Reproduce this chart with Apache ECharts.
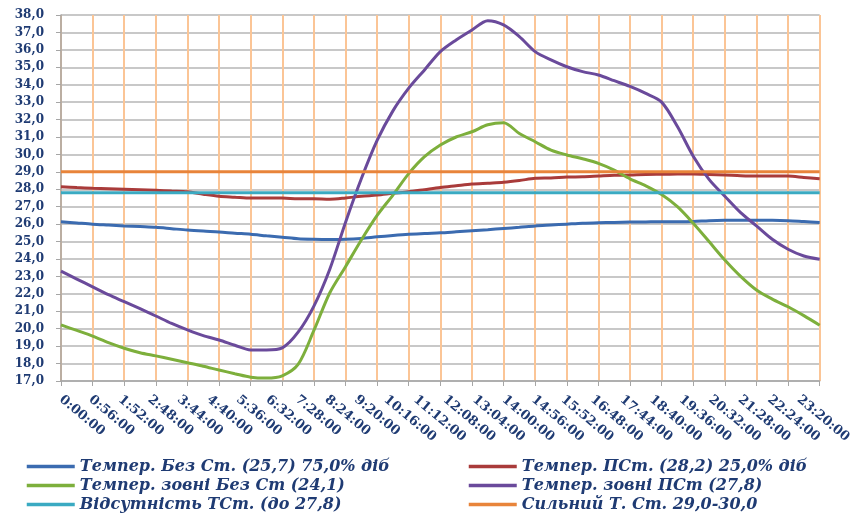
<!DOCTYPE html>
<html>
<head>
<meta charset="utf-8">
<script src="https://cdn.jsdelivr.net/npm/echarts@6/dist/echarts.min.js"></script>
<style>
html,body{margin:0;padding:0;background:#fff;}
#chart{width:854px;height:515px;}
</style>
</head>
<body>
<div id="chart"></div>
<script>
// time of day in minutes (every 30 min)
const times = [0,30,60,90,120,150,180,210,240,270,300,330,360,390,420,450,480,510,540,570,600,630,660,690,720,750,780,810,840,870,900,930,960,990,1020,1050,1080,1110,1140,1170,1200,1230,1260,1290,1320,1350,1380,1410,1440];

const seriesNames = [
  'Темпер. Без Ст. (25,7) 75,0% діб',
  'Темпер. ПСт. (28,2) 25,0% діб',
  'Темпер. зовні Без Ст (24,1)',
  'Темпер. зовні ПСт (27,8)',
  'Відсутність ТСт. (до 27,8)',
  'Сильний Т. Ст. 29,0-30,0'
];

const tempIndoorNoWave = [26.14,26.07,26.0,25.95,25.9,25.86,25.82,25.74,25.66,25.6,25.55,25.48,25.42,25.33,25.25,25.16,25.13,25.12,25.13,25.18,25.27,25.35,25.42,25.47,25.5,25.56,25.62,25.68,25.75,25.82,25.9,25.95,26.0,26.05,26.08,26.1,26.12,26.13,26.14,26.14,26.15,26.2,26.22,26.22,26.22,26.22,26.2,26.15,26.1];

const tempIndoorWave = [28.15,28.1,28.06,28.03,28.0,27.97,27.94,27.9,27.86,27.72,27.6,27.55,27.5,27.5,27.5,27.45,27.45,27.43,27.5,27.6,27.67,27.77,27.86,27.98,28.1,28.2,28.3,28.35,28.4,28.5,28.63,28.65,28.7,28.72,28.76,28.8,28.82,28.85,28.86,28.87,28.88,28.85,28.82,28.78,28.76,28.76,28.76,28.68,28.6];

const tempOutdoorNoWave = [20.22,19.9,19.58,19.2,18.88,18.62,18.44,18.25,18.05,17.85,17.63,17.42,17.22,17.17,17.3,17.95,19.9,22.05,23.56,25.09,26.5,27.67,28.9,29.87,30.54,31.0,31.3,31.7,31.82,31.2,30.73,30.25,29.97,29.75,29.49,29.1,28.6,28.2,27.7,27.0,26.05,25.0,23.94,23.0,22.22,21.7,21.26,20.75,20.2];

const tempOutdoorWave = [23.3,22.85,22.4,21.95,21.55,21.15,20.73,20.3,19.93,19.6,19.35,19.05,18.78,18.78,18.9,19.8,21.3,23.4,26.1,28.6,30.8,32.5,33.8,34.85,35.9,36.57,37.14,37.67,37.43,36.76,35.9,35.42,35.03,34.75,34.56,34.23,33.9,33.5,33.0,31.6,29.9,28.57,27.6,26.66,25.9,25.13,24.56,24.17,23.98];

const noWaveLevel = [27.8, 27.8];
const strongWaveLevel = [29.0, 29.0];
const levelTimes = [0, 1440];

const colors = ['#3B6BB0','#A93B3A','#7DAF3C','#6A4A9B','#3AAAC2','#E8843A'];

function pairs(xs, ys){ return xs.map((x,i)=>[x, ys[i]]); }
function fmtTime(m){
  const h = Math.floor(m/60), mm = m%60;
  return h + ':' + (mm<10?'0':'') + mm + ':00';
}

const fontAxis = {fontFamily:'DejaVu Serif', fontWeight:'bold', color:'#1F3B73', fontSize:12};
const legendText = {fontFamily:'DejaVu Serif', fontWeight:'bold', fontStyle:'italic', color:'#1F3B73', fontSize:16, lineHeight:19};

const chart = echarts.init(document.getElementById('chart'), null, {renderer:'canvas'});

const lineSeries = (name, data, color, z) => ({
  name, type:'line', data, xAxisIndex:0, yAxisIndex:0,
  symbol:'none', smooth:0.3, z:z||2,
  lineStyle:{color, width:3}, itemStyle:{color},
  emphasis:{disabled:true}
});

const legendBase = {orient:'vertical', top:457, height:62, itemWidth:48, itemHeight:12, itemGap:0,
  textStyle:legendText, lineStyle:{width:3.5}, itemStyle:{opacity:0, borderWidth:0}, selectedMode:false, padding:0};

chart.setOption({
  animation:false,
  backgroundColor:'#fff',
  color: colors,
  grid:{left:61, right:32, top:15, bottom:134, containLabel:false},
  legend:[
    Object.assign({data:[seriesNames[0], seriesNames[2], seriesNames[4]], left:25}, legendBase),
    Object.assign({data:[seriesNames[1], seriesNames[3], seriesNames[5]], left:467}, legendBase)
  ],
  xAxis:[
    {type:'value', min:0, max:1440, interval:60, position:'bottom',
     axisLine:{show:true, lineStyle:{color:'#A6A6A6', width:1.5}},
     axisTick:{show:true, length:5, lineStyle:{color:'#A6A6A6'}},
     axisLabel:{show:false},
     splitLine:{show:true, lineStyle:{color:'#FBC596', width:2}}},
    {type:'value', min:0, max:1440, interval:56, position:'bottom',
     axisLine:{show:false}, axisTick:{show:false}, splitLine:{show:false},
     axisLabel:Object.assign({show:true, rotate:-40, margin:17, showMaxLabel:false, showMinLabel:true,
       formatter:(v)=>fmtTime(v)}, fontAxis, {fontSize:13})}
  ],
  yAxis:{type:'value', min:17, max:38, interval:1,
    axisLine:{show:true, lineStyle:{color:'#A6A6A6', width:1.5}},
    axisTick:{show:true, length:5, lineStyle:{color:'#A6A6A6'}},
    axisLabel:Object.assign({margin:17, formatter:(v)=>v.toFixed(1).replace('.', ',')}, fontAxis),
    splitLine:{show:true, lineStyle:{color:'#C8C8C8', width:2}}},
  series:[
    lineSeries(seriesNames[0], pairs(times, tempIndoorNoWave), colors[0]),
    lineSeries(seriesNames[1], pairs(times, tempIndoorWave), colors[1]),
    lineSeries(seriesNames[2], pairs(times, tempOutdoorNoWave), colors[2]),
    lineSeries(seriesNames[3], pairs(times, tempOutdoorWave), colors[3]),
    Object.assign(lineSeries(seriesNames[4], pairs(levelTimes, noWaveLevel), colors[4]), {smooth:false}),
    Object.assign(lineSeries(seriesNames[5], pairs(levelTimes, strongWaveLevel), colors[5]), {smooth:false})
  ]
});
</script>
</body>
</html>
